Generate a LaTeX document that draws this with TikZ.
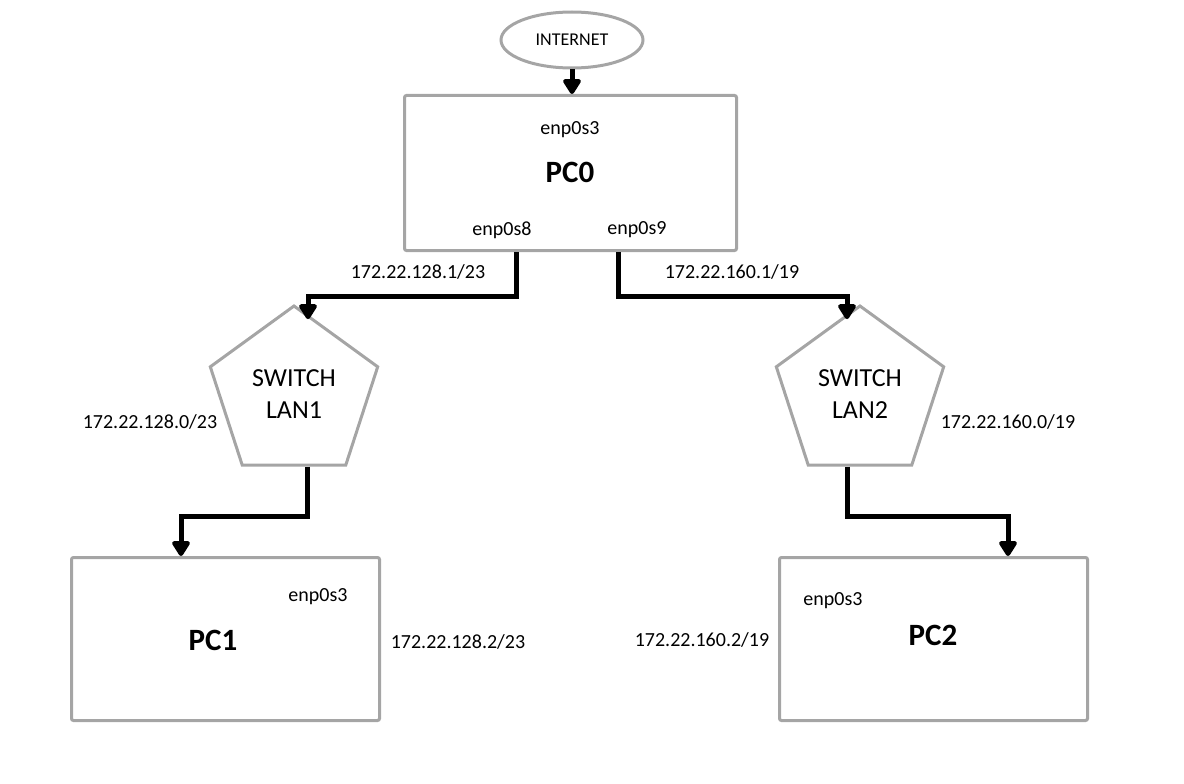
\documentclass[tikz,border=0pt]{standalone}
\usepackage{fontspec}
\setmainfont{Carlito}
\usetikzlibrary{arrows.meta,shapes.geometric}
\definecolor{boxgray}{RGB}{165,165,165}

\begin{document}
\begin{tikzpicture}[x=1pt,y=-1pt,
    box/.style={draw=boxgray,line width=3pt,rounded corners=2pt,minimum width=308pt,minimum height=163pt,inner sep=0pt},
    switchbox/.style={draw=boxgray,line width=3pt,regular polygon,regular polygon sides=5,minimum size=176pt,inner sep=0pt,align=center,font=\fontsize{26}{32}\selectfont},
    link/.style={line width=5pt,-{Triangle[width=20pt,length=17pt,round]}},
    lbl/.style={font=\fontsize{20}{24}\selectfont},
    pcname/.style={font=\fontsize{31}{36}\selectfont\bfseries}]
            \useasboundingbox (0,0) rectangle (1184,784);

            \node[ellipse,draw=boxgray,line width=3pt,minimum width=142pt,minimum height=56pt,font=\fontsize{18}{22}\selectfont] (inet) at (572,40) {INTERNET};

            \node[box,minimum width=332pt,minimum height=155pt] (pc0) at (570.5,173) {};
            \node[box] (pc1) at (225.5,639) {};
            \node[box] (pc2) at (933.5,639) {};

            \node[switchbox] (lan1) at (294,394) {SWITCH\\LAN1};
            \node[switchbox] (lan2) at (860,394) {SWITCH\\LAN2};

            \node[pcname] (pc0name) at (570,172) {PC0};
            \node[pcname] (pc1name) at (213,640) {PC1};
            \node[pcname] (pc2name) at (933,635) {PC2};

            \node[lbl] (pc0if3) at (570,130) {enp0s3};
            \node[lbl] (pc0if8) at (502,230) {enp0s8};
            \node[lbl] (pc0if9) at (637,230) {enp0s9};
            \node[lbl] (pc1if3) at (318,597) {enp0s3};
            \node[lbl] (pc2if3) at (833,601) {enp0s3};

            \node[lbl] (ip01) at (418,272) {172.22.128.1/23};
            \node[lbl] (ip02) at (732,272) {172.22.160.1/19};
            \node[lbl] (net1) at (150,422) {172.22.128.0/23};
            \node[lbl] (net2) at (1008,422) {172.22.160.0/19};
            \node[lbl] (ip1) at (458,642) {172.22.128.2/23};
            \node[lbl] (ip2) at (702,640) {172.22.160.2/19};

            \draw[link] (inet.south) -- (inet.south |- pc0.north);
            \draw[link] ([xshift=-54.5pt]pc0.south) -- ++(0,44) -| ([xshift=14pt,yshift=-15pt]lan1.north);
            \draw[link] ([xshift=47.5pt]pc0.south) -- ++(0,44) -| ([xshift=-13pt,yshift=-15pt]lan2.north);
            \draw[link] ([xshift=13pt]lan1.south) -- ++(0,50) -| ([xshift=-44.5pt]pc1.north);
            \draw[link] ([xshift=-13pt]lan2.south) -- ++(0,50) -| ([xshift=74.5pt]pc2.north);
        \end{tikzpicture}
\end{document}
